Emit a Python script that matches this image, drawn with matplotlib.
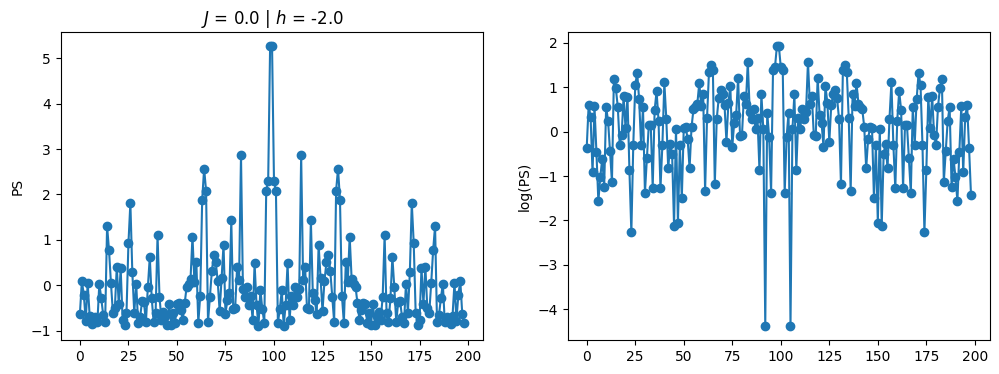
import matplotlib
matplotlib.use("Agg")
import matplotlib.pyplot as plt
import numpy as np

title_text = r"$J$ = 0.0 | $h$ = -2.0"
ylabel_left = "PS"
ylabel_right = "log(PS)"
xticks = [0, 25, 50, 75, 100, 125, 150, 175, 200]

ps_values = [
    -0.63, 0.09, -0.21, -0.78, 0.05, -0.67, -0.85, -0.79, -0.71, -0.82,
    0.03, -0.29, -0.66, -0.81, 1.30, 0.77, 0.04, -0.61, -0.51, 0.41,
    -0.41, 0.37, -0.77, -0.88, -0.61, 0.92, 1.81, 0.29, -0.61, 0.03,
    -0.83, -0.71, -0.36, -0.37, -0.82, -0.05, 0.62, -0.29, -0.82, -0.61,
    1.10, -0.25, -0.76, -0.60, -0.68, -0.88, -0.42, -0.87, -0.61, -0.84,
    -0.41, -0.40, -0.55, -0.76, -0.40, -0.03, 0.03, 0.14, 1.07, 0.07,
    0.50, -0.83, -0.23, 1.88, 2.57, 2.08, -0.81, -0.25, 0.32, 0.66,
    0.50, 0.09, -0.58, 0.16, 0.89, -0.63, -0.33, -0.18, 1.43, -0.52,
    -0.50, 0.41, 0.12, 2.86, -0.09, -0.25, -0.03, -0.43, -0.24, -0.77,
    0.48, -0.43, -0.90, -0.11, -0.53, -0.83, 2.08, 2.29, 5.27,
    5.27, 2.29, 2.08, -0.83, -0.53, -0.11, -0.90, -0.43, 0.48,
    -0.77, -0.24, -0.43, -0.03, -0.25, -0.09, 2.86, 0.12, 0.41, -0.50,
    -0.52, 1.43, -0.18, -0.33, -0.63, 0.89, 0.16, -0.58, 0.09, 0.50,
    0.66, 0.32, -0.25, -0.81, 2.08, 2.57, 1.88, -0.23, -0.83, 0.50,
    0.07, 1.07, 0.14, 0.03, -0.03, -0.40, -0.76, -0.55, -0.40, -0.41,
    -0.84, -0.61, -0.87, -0.42, -0.88, -0.68, -0.60, -0.76, -0.25, 1.10,
    -0.61, -0.82, -0.29, 0.62, -0.05, -0.82, -0.37, -0.36, -0.71, -0.83,
    0.03, -0.61, 0.29, 1.81, 0.92, -0.61, -0.88, -0.77, 0.37, -0.41,
    0.41, -0.51, -0.61, 0.04, 0.77, 1.30, -0.81, -0.66, -0.29, 0.03,
    -0.82, -0.71, -0.79, -0.85, -0.67, 0.05, -0.78, -0.21, 0.09, -0.63,
    -0.84,
]

log_ps_values = [
    -0.36, 0.60, 0.33, -0.92, 0.57, -0.46, -1.57, -1.02, -0.61, -1.24,
    0.55, 0.25, -0.43, -1.13, 1.18, 0.98, 0.56, -0.29, -0.08, 0.80,
    0.08, 0.78, -0.86, -2.27, -0.29, 1.04, 1.33, 0.73, -0.29, 0.55,
    -1.38, -0.59, 0.16, 0.14, -1.26, 0.49, 0.91, 0.25, -1.28, -0.29,
    1.11, 0.29, -0.83, -0.27, -0.50, -2.12, 0.07, -2.05, -0.30, -1.50,
    0.08, 0.10, -0.16, -0.83, 0.10, 0.50, 0.55, 0.63, 1.10, 0.58,
    0.85, -1.33, 0.31, 1.35, 1.51, 1.40, -1.18, 0.29, 0.75, 0.93,
    0.85, 0.60, -0.23, 0.65, 1.03, -0.34, 0.20, 0.37, 1.22, -0.10,
    -0.07, 0.80, 0.62, 1.57, 0.45, 0.29, 0.50, 0.05, 0.30, -0.86,
    0.84, 0.05, -4.38, 0.43, -0.12, -1.38, 1.40, 1.45, 1.93,
    1.93, 1.45, 1.40, -1.38, -0.12, 0.43, -4.38, 0.05, 0.84,
    -0.86, 0.30, 0.05, 0.50, 0.29, 0.45, 1.57, 0.62, 0.80, -0.07,
    -0.10, 1.22, 0.37, 0.20, -0.34, 1.03, 0.65, -0.23, 0.60, 0.85,
    0.93, 0.75, 0.29, -1.18, 1.40, 1.51, 1.35, 0.31, -1.33, 0.85,
    0.58, 1.10, 0.63, 0.55, 0.50, 0.10, -0.83, -0.16, 0.10, 0.08,
    -1.50, -0.30, -2.05, 0.07, -2.12, -0.50, -0.27, -0.83, 0.29, 1.11,
    -0.29, -1.28, 0.25, 0.91, 0.49, -1.26, 0.14, 0.16, -0.59, -1.38,
    0.55, -0.29, 0.73, 1.33, 1.04, -0.29, -2.27, -0.86, 0.78, 0.08,
    0.80, -0.08, -0.29, 0.56, 0.98, 1.18, -1.13, -0.43, 0.25, 0.55,
    -1.24, -0.61, -1.02, -1.57, -0.46, 0.57, -0.92, 0.33, 0.60, -0.36,
    -1.42,
]

x_ps = np.arange(len(ps_values))
x_log = np.arange(len(log_ps_values))

W, H = 999, 374
fig = plt.figure(figsize=(W / 100, H / 100), dpi=100)
ax1 = fig.add_axes([60.7 / W, 34 / H, 422.7 / W, 308 / H])
ax2 = fig.add_axes([567.5 / W, 34 / H, 422.7 / W, 308 / H])

ax1.plot(x_ps, ps_values, marker="o", color="C0")
ax1.set_title(title_text)
ax1.set_ylabel(ylabel_left)
ax1.set_xticks(xticks)

ax2.plot(x_log, log_ps_values, marker="o", color="C0")
ax2.set_ylabel(ylabel_right)
ax2.set_xticks(xticks)

fig.savefig("out.png", dpi=100)
